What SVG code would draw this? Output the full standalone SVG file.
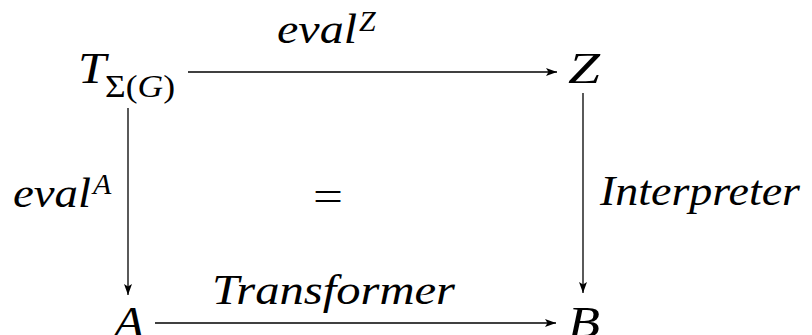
<svg xmlns="http://www.w3.org/2000/svg" width="812" height="335" viewBox="0 0 812 335">
<defs>
<marker id="ah" markerUnits="userSpaceOnUse" markerWidth="12" markerHeight="8" refX="11" refY="4" orient="auto">
<path d="M0,0 L11,4 L0,8 L2.5,4 Z" fill="#000"/>
</marker>
</defs>
<rect width="812" height="335" fill="#fff"/>
<g id="connectors" stroke="#000" stroke-width="1.3" fill="none" marker-end="url(#ah)">
<line x1="188" y1="72" x2="557" y2="72"/>
<line x1="128" y1="108" x2="128" y2="295"/>
<line x1="583" y1="93" x2="583" y2="293"/>
<line x1="155" y1="323" x2="556" y2="323"/>
</g>
<g id="node-T">
<text x="78" y="83" font-size="44" font-family="Liberation Serif" font-style="italic" textLength="28" lengthAdjust="spacingAndGlyphs">T</text>
<text x="105" y="97" font-size="31" font-family="Liberation Serif" textLength="70" lengthAdjust="spacingAndGlyphs">Σ(<tspan font-style="italic">G</tspan>)</text>
</g>
<g id="node-Z"><text x="568" y="83" font-size="44" font-family="Liberation Serif" font-style="italic" textLength="32" lengthAdjust="spacingAndGlyphs">Z</text></g>
<g id="node-A"><text x="114" y="337" font-size="44" font-family="Liberation Serif" font-style="italic" textLength="30" lengthAdjust="spacingAndGlyphs">A</text></g>
<g id="node-B"><text x="568" y="337" font-size="44" font-family="Liberation Serif" font-style="italic" textLength="32" lengthAdjust="spacingAndGlyphs">B</text></g>
<g id="labels">
<text x="277" y="43" font-size="42" font-family="Liberation Serif" font-style="italic" textLength="80" lengthAdjust="spacingAndGlyphs">eval</text>
<text x="359" y="31" font-size="30" font-family="Liberation Serif" font-style="italic">Z</text>
<text x="13" y="207" font-size="42" font-family="Liberation Serif" font-style="italic" textLength="78" lengthAdjust="spacingAndGlyphs">eval</text>
<text x="93" y="194" font-size="30" font-family="Liberation Serif" font-style="italic">A</text>
<text x="600" y="205" font-size="42" font-family="Liberation Serif" font-style="italic" textLength="200" lengthAdjust="spacingAndGlyphs">Interpreter</text>
<text x="212" y="304" font-size="42" font-family="Liberation Serif" font-style="italic" textLength="243" lengthAdjust="spacingAndGlyphs">Transformer</text>
<text x="313" y="210" font-size="42" font-family="Liberation Serif" textLength="30" lengthAdjust="spacingAndGlyphs">=</text>
</g>
</svg>
